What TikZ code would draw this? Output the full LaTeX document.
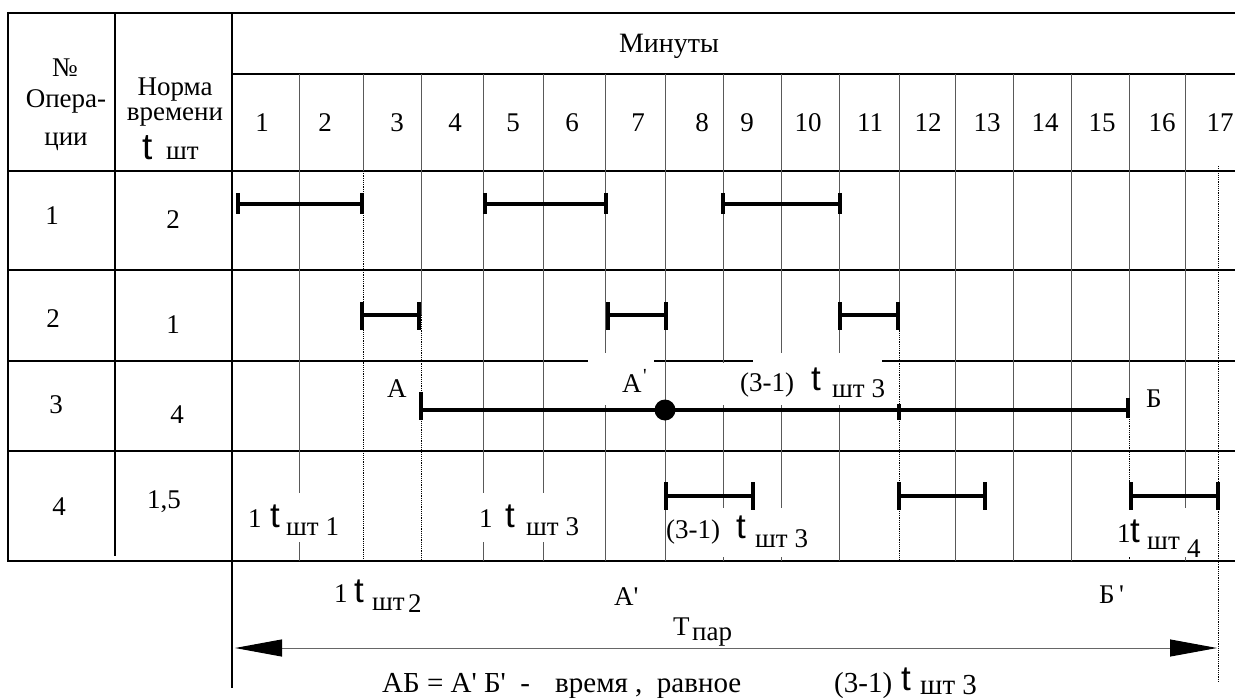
\documentclass[tikz,border=0pt]{standalone}
\usepackage{fontspec}
\setmainfont{Liberation Serif}
\newfontfamily\tfont{Liberation Sans}
% a serif family without TeX quote ligatures, for straight prime marks
\newfontfamily\qfont[Ligatures=ResetAll]{Liberation Serif}
\usetikzlibrary{arrows.meta}
\newcommand\q{{\qfont\char"27}}
\begin{document}
\begin{tikzpicture}[x=1pt,y=-1pt,
  every node/.style={inner sep=0pt,font=\fontsize{27}{32}\selectfont},
  frame/.style={line width=2.4pt,black},
  gridline/.style={line width=1pt,black!65},
  proj/.style={line width=0.9pt,black,dash pattern=on 1.2pt off 1pt},
  bar/.style={line width=3.5pt},
  tickmark/.style={line width=4pt},
  cover/.style={fill=white,draw=none},
  tee/.style={font=\tfont\fontsize{35}{35}\selectfont},
  big/.style={font=\fontsize{29}{32}\selectfont},
  lw/.style={anchor=base west},
  lc/.style={anchor=base}
]
\useasboundingbox (0,0) rectangle (1235,698);

% ---- table frame ----
\draw[frame] (8,13) -- (1235,13);
\draw[frame] (8,11.8) -- (8,562);
\draw[frame] (115,13) -- (115,556);
\draw[frame] (232,13) -- (232,688);
\draw[frame] (232,74) -- (1235,74);
\foreach \y in {171,270,361,451,561} \draw[frame] (8,\y) -- (1235,\y);

% ---- minute grid ----
\foreach \x in {299,483,543,605,665,723,781,839,955,1013,1071,1185}
  \draw[gridline] (\x,74) -- (\x,561);
\draw[gridline] (363,74) -- (363,171);
\draw[proj] (363,171) -- (363,561);
\draw[gridline] (421,74) -- (421,315);
\draw[proj] (421,315) -- (421,561);
\draw[gridline] (899,74) -- (899,315);
\draw[proj] (899,315) -- (899,561);
\draw[gridline] (1129,74) -- (1129,410);
\draw[proj] (1129,410) -- (1129,561);
\draw[proj] (1218,166) -- (1218,682);

% ---- blank areas behind the labels ----
\fill[cover] (588,353) rectangle (654,405);
\fill[cover] (753,353) rectangle (882,405);
\fill[cover] (700,363) rectangle (753,405);
\fill[cover] (240,493) rectangle (345,542);
\fill[cover] (470,493) rectangle (590,542);
\fill[cover] (668,508) rectangle (812,557);
\fill[cover] (1112,508) rectangle (1205,557);

% ---- header ----
\node[lc] (hno) at (65,77) {№};
\node[lc] (hop1) at (66,108) {Опера-};
\node[lc] (hop2) at (66,146) {ции};
\node[align=center,font=\fontsize{27}{25}\selectfont] (hn) at (175,102.4)
  {Норма\\времени};
\node[lw,tee,font=\tfont\fontsize{37}{37}\selectfont] (ht) at (142,160) {t};
\node[lw] (hsht) at (166,160) {шт};
\node[lc,font=\fontsize{28}{32}\selectfont] (hmin) at (669,53) {Минуты};
\foreach \n/\x in {1/262,2/325,3/397,4/455,5/513,6/572,7/638,8/702,9/747,10/808,
                   11/870,12/928,13/987,14/1045,15/1102,16/1162,17/1220}
  \node[lc] (m\n) at (\x,132) {\n};

% ---- operation numbers and time norms ----
\node[lc] (op1) at (52,225) {1};
\node[lc] (nt1) at (173,228) {2};
\node[lc] (op2) at (53,327) {2};
\node[lc] (nt2) at (173,333) {1};
\node[lc] (op3) at (56,413) {3};
\node[lc] (nt3) at (177,423) {4};
\node[lc] (op4) at (59,515) {4};
\node[lc] (nt4) at (164,508) {1,5};

% ---- operation 1 ----
\foreach \a/\b in {238/362,485/606,723/840}{
  \draw[bar] (\a,204) -- (\b,204);
  \draw[tickmark] (\a,193) -- (\a,214);
  \draw[tickmark] (\b,193) -- (\b,214);
}
% ---- operation 2 ----
\foreach \a/\b in {362/419,608/666,840/898}{
  \draw[bar] (\a,315) -- (\b,315);
  \draw[tickmark] (\a,302) -- (\a,330);
  \draw[tickmark] (\b,302) -- (\b,330);
}
% ---- operation 3 ----
\coordinate (A) at (421,410);
\coordinate (A1) at (665,410);
\coordinate (B) at (1128,410);
\draw[bar] (A) -- (B);
\draw[tickmark] (421,392) -- (421,420);
\draw[tickmark] (899,404) -- (899,420);
\draw[tickmark] (1128,398) -- (1128,418);
\fill (A1) circle (10.5);
\node[lw] (lA) at (387,397) {А};
\node[lw] (lA1) at (622,392) {А};
\node[lw,font=\fontsize{20}{20}\selectfont] (lA1p) at (643,382) {\q};
\node[lw] (l31) at (740,391) {(3-1)};
\node[lw,tee] (l31t) at (811,390) {t};
\node[lw] (l31s) at (832,397) {шт 3};
\node[lw] (lB) at (1146,407) {Б};
% ---- operation 4 ----
\foreach \a/\b in {666/753,899/985,1131/1218}{
  \draw[bar] (\a,496) -- (\b,496);
  \draw[tickmark] (\a,482) -- (\a,510);
  \draw[tickmark] (\b,482) -- (\b,510);
}
\node[lw] (l41n) at (248,527) {1};
\node[lw,tee] (l41t) at (270,527) {t};
\node[lw] (l41s) at (286,535) {шт 1};
\node[lw] (l43n) at (479,527) {1};
\node[lw,tee] (l43t) at (505,527) {t};
\node[lw] (l43s) at (526,535) {шт 3};
\node[lw] (l4r) at (666,538) {(3-1)};
\node[lw,tee] (l4rt) at (736,538) {t};
\node[lw] (l4rs) at (755,547) {шт 3};
\node[lw] (l44n) at (1117,542) {1};
\node[lw,tee] (l44t) at (1130,542) {t};
\node[lw] (l44s) at (1147,549) {шт};
\node[lw] (l44i) at (1187,557) {4};

% ---- below the table ----
\node[lw] (l2n) at (334,602) {1};
\node[lw,tee] (l2t) at (354,602) {t};
\node[lw] (l2s) at (372,610) {шт};
\node[lw] (l2i) at (408,612) {2};
\node[lw] (bA) at (614,605) {А\q};
\node[lw] (bB) at (1099,603) {Б\,\q};
\node[lw] (tp) at (673,635) {Т};
\node[lw] (tps) at (692,640) {пар};
\coordinate (arrL) at (235,648);
\coordinate (arrR) at (1217,648);
\draw[line width=1pt,black!60,
  {Triangle[length=47pt,width=17pt,black]}-{Triangle[length=47pt,width=17pt,black]}]
  (arrL) -- (arrR);
\node[lw,big] (note) at (382,692) {АБ = А\q{} Б\q{}\ \ -};
\node[lw,big] (note1) at (555,692) {время ,\ \ равное};
\node[lw,big] (note2) at (834,692) {(3-1)};
\node[lw,tee] (note2t) at (901,690) {t};
\node[lw,big] (note2s) at (920,694) {шт 3};
\end{tikzpicture}
\end{document}
